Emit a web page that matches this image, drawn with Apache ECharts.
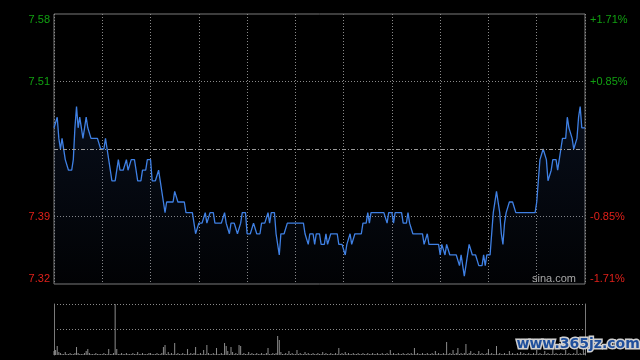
<!DOCTYPE html>
<html><head><meta charset="utf-8">
<script src="https://cdn.jsdelivr.net/npm/echarts@6/dist/echarts.min.js"></script>
<style>html,body{margin:0;padding:0;background:#000}#c{width:640px;height:360px}</style>
</head><body><div id="c"></div>
<script>
const prevClose = 7.45;
const pctRange = 0.0171;
// tick labels, bottom to top
const priceTickLabels = ['7.32', '7.39', '', '7.51', '7.58'];
const pctTickLabels = ['-1.71%', '-0.85%', '', '+0.85%', '+1.71%'];

// morning session 9:30-12:00
const priceAM = [
7.47,7.47,7.48,7.46,7.45,7.46,7.46,7.44,7.44,7.43,
7.43,7.43,7.44,7.47,7.49,7.47,7.48,7.48,7.46,7.46,
7.48,7.47,7.47,7.46,7.46,7.46,7.46,7.46,7.46,7.45,
7.45,7.45,7.46,7.45,7.44,7.44,7.42,7.42,7.42,7.43,
7.44,7.43,7.43,7.43,7.43,7.44,7.43,7.43,7.44,7.44,
7.44,7.43,7.42,7.42,7.42,7.43,7.43,7.43,7.44,7.44,
7.44,7.42,7.42,7.42,7.42,7.43,7.43,7.41,7.40,7.39,
7.40,7.40,7.40,7.40,7.40,7.41,7.41,7.40,7.40,7.40,
7.40,7.40,7.39,7.39,7.39,7.39,7.39,7.38,7.37,7.37,
7.38,7.38,7.38,7.38,7.39,7.38,7.38,7.39,7.39,7.39,
7.38,7.38,7.38,7.38,7.38,7.38,7.39,7.38,7.38,7.37,
7.38,7.38,7.38,7.38,7.37,7.37,7.38,7.39,7.39,7.39,
7.37,7.37,7.37,7.37,7.38,7.38,7.37,7.37,7.37,7.38,
7.38,7.38,7.38,7.39,7.38,7.39,7.39,7.39,7.37,7.36,
7.35,7.37,7.37,7.37,7.37,7.38,7.38,7.38,7.38,7.38,
7.38
];
// afternoon session 13:01-16:00
const pricePM = [
7.38,7.38,7.38,7.38,7.38,7.37,7.37,7.36,7.37,
7.37,7.37,7.36,7.37,7.37,7.37,7.36,7.36,7.36,7.37,
7.36,7.36,7.37,7.37,7.37,7.37,7.37,7.36,7.36,7.36,
7.36,7.35,7.36,7.36,7.37,7.36,7.36,7.37,7.37,7.37,
7.37,7.37,7.38,7.38,7.38,7.39,7.38,7.39,7.39,7.39,
7.39,7.39,7.39,7.39,7.39,7.39,7.39,7.38,7.39,7.39,
7.39,7.38,7.39,7.39,7.39,7.39,7.39,7.38,7.38,7.38,
7.39,7.38,7.38,7.37,7.37,7.37,7.37,7.37,7.37,7.37,
7.36,7.36,7.37,7.36,7.36,7.36,7.36,7.36,7.36,7.36,
7.35,7.36,7.36,7.35,7.36,7.36,7.35,7.35,7.35,7.35,
7.35,7.35,7.34,7.35,7.34,7.33,7.34,7.35,7.36,7.36,
7.35,7.35,7.35,7.35,7.34,7.34,7.34,7.35,7.34,7.35,
7.35,7.35,7.37,7.39,7.39,7.41,7.40,7.39,7.37,7.36,
7.38,7.39,7.39,7.40,7.40,7.40,7.40,7.39,7.39,7.39,
7.39,7.39,7.39,7.39,7.39,7.39,7.39,7.39,7.39,7.39,
7.40,7.42,7.44,7.44,7.45,7.45,7.44,7.42,7.42,7.43,
7.44,7.44,7.44,7.43,7.44,7.45,7.46,7.46,7.46,7.48,
7.47,7.47,7.46,7.45,7.45,7.46,7.48,7.49,7.47,7.47,7.47
];
const volumeAM = [
4,5,9,3,2,1,1,3,1,1,2,1,1,2,8,2,1,1,1,2,4,6,2,1,1,1,2,1,1,1,
1,2,1,1,6,1,1,2,51,6,1,1,2,1,1,2,1,1,1,2,1,1,3,1,1,2,1,1,1,2,
2,1,1,1,2,1,1,2,8,10,1,3,1,2,1,12,1,2,1,1,2,1,1,6,1,2,1,2,8,1,
1,2,1,5,1,10,2,1,1,2,1,7,1,1,2,1,12,9,4,1,8,3,1,2,1,10,9,1,2,1,
1,3,1,2,1,1,2,1,1,2,1,1,2,7,1,1,2,1,2,19,15,3,1,1,2,1,4,1,2,1,
1
];
const volumePM = [
5,1,2,1,1,3,1,2,1,1,2,1,1,2,1,1,3,1,2,1,1,2,1,1,2,1,7,1,2,
1,3,1,2,1,1,2,1,1,2,1,1,2,1,1,2,1,1,2,1,1,2,1,1,2,1,1,2,1,5,
1,2,1,1,2,1,1,2,1,1,2,1,2,1,7,1,2,1,1,2,1,1,2,1,1,2,1,4,1,2,
1,1,2,1,13,1,2,1,5,1,2,7,1,2,1,2,11,1,2,4,1,2,1,1,4,1,2,1,1,2,
6,1,2,1,1,9,1,2,1,1,2,1,1,4,1,2,1,1,2,1,3,1,2,1,1,2,1,1,2,1,
5,1,2,1,1,4,1,2,1,1,6,1,2,1,1,2,1,1,5,1,2,1,1,2,1,8,1,2,1,6,2
];

const prices = priceAM.concat(pricePM);
const volumes = volumeAM.concat(volumePM);
const times = [];
function pushRange(h0, m0, h1, m1) {
  for (let t = h0 * 60 + m0; t <= h1 * 60 + m1; t++) {
    const h = Math.floor(t / 60), m = t % 60;
    times.push(h + ':' + (m < 10 ? '0' : '') + m);
  }
}
pushRange(9, 30, 12, 0);
pushRange(13, 1, 16, 0);

const yMin = prevClose * (1 - pctRange);
const yMax = prevClose * (1 + pctRange);
const yInt = (yMax - yMin) / 4;
const volMax = Math.max.apply(null, volumes);

const GREEN = '#11a011', RED = '#e0201a', GRID = '#8a8a8a', BORDER = '#7a7a7a';
const labelColor = (v, idx) => idx > 2 ? GREEN : RED;

const chart = echarts.init(document.getElementById('c'), null, {renderer: 'canvas'});
chart.setOption({
  backgroundColor: '#000',
  animation: false,
  grid: [
    {left: 54, top: 14, width: 531, height: 270, show: true, borderColor: BORDER, borderWidth: 1, backgroundColor: 'transparent'},
    {left: 54, top: 304, width: 531, height: 51}
  ],
  xAxis: [
    {type: 'category', gridIndex: 0, data: times, boundaryGap: false,
     axisLine: {show: false}, axisTick: {show: false}, axisLabel: {show: false},
     splitLine: {show: true, interval: 29, lineStyle: {color: GRID, type: [1, 2], width: 1}}},
    {type: 'category', gridIndex: 1, data: times, boundaryGap: false,
     axisLine: {show: false}, axisTick: {show: false}, axisLabel: {show: false}, splitLine: {show: false}}
  ],
  yAxis: [
    {type: 'value', gridIndex: 0, position: 'left', min: yMin, max: yMax, interval: yInt,
     axisLine: {show: false}, axisTick: {show: false},
     axisLabel: {fontSize: 11, fontFamily: 'Liberation Sans, Arial', margin: 4,
       color: labelColor, formatter: (v, idx) => priceTickLabels[idx],
       verticalAlignMinLabel: 'bottom', verticalAlignMaxLabel: 'top'},
     splitLine: {show: true, lineStyle: {color: ['transparent', GRID, 'transparent', GRID, 'transparent'], type: [1, 2], width: 1}}},
    {type: 'value', gridIndex: 0, position: 'right', min: yMin, max: yMax, interval: yInt,
     axisLine: {show: false}, axisTick: {show: false}, splitLine: {show: false},
     axisLabel: {fontSize: 11, fontFamily: 'Liberation Sans, Arial', margin: 5,
       color: labelColor, formatter: (v, idx) => pctTickLabels[idx],
       verticalAlignMinLabel: 'bottom', verticalAlignMaxLabel: 'top'}},
    {type: 'value', gridIndex: 1, position: 'left', min: 0, max: volMax, interval: volMax / 2,
     axisLine: {show: true, lineStyle: {color: BORDER, width: 1}}, axisTick: {show: false}, axisLabel: {show: false},
     splitLine: {show: true, lineStyle: {color: ['transparent', GRID, GRID], type: [1, 2], width: 1}}},
    {type: 'value', gridIndex: 1, position: 'right', min: 0, max: volMax, interval: volMax / 2,
     axisLine: {show: true, lineStyle: {color: BORDER, width: 1}}, axisTick: {show: false}, axisLabel: {show: false},
     splitLine: {show: false}}
  ],
  series: [
    {type: 'line', xAxisIndex: 0, yAxisIndex: 0, data: prices, symbol: 'none', z: 3,
     lineStyle: {color: '#3f80e4', width: 1.3},
     areaStyle: {color: new echarts.graphic.LinearGradient(0, 0, 0, 1, [
       {offset: 0, color: 'rgba(45,80,150,0.25)'},
       {offset: 1, color: 'rgba(45,80,150,0.04)'}])},
     markLine: {silent: true, symbol: 'none', animation: false,
       label: {show: false},
       lineStyle: {color: '#9a9a9a', type: [4, 2, 1, 2], width: 1},
       data: [{yAxis: prevClose}]}},
    {type: 'bar', xAxisIndex: 1, yAxisIndex: 2, data: volumes, barWidth: 1,
     itemStyle: {color: '#8c8c8c'}}
  ],
  graphic: [
    {type: 'text', left: 532, top: 273, z: 10,
     style: {text: 'sina.com', fill: '#a8a8a8', font: '11px "Liberation Sans", Arial'}},
    {type: 'text', left: 515, top: 336, z: 20,
     style: {text: 'www.365jz.com', fill: '#1f4f9c', stroke: '#d0d0d0', lineWidth: 3,
       font: 'bold 14px "DejaVu Sans"'}}
  ]
});
</script>
</body></html>
